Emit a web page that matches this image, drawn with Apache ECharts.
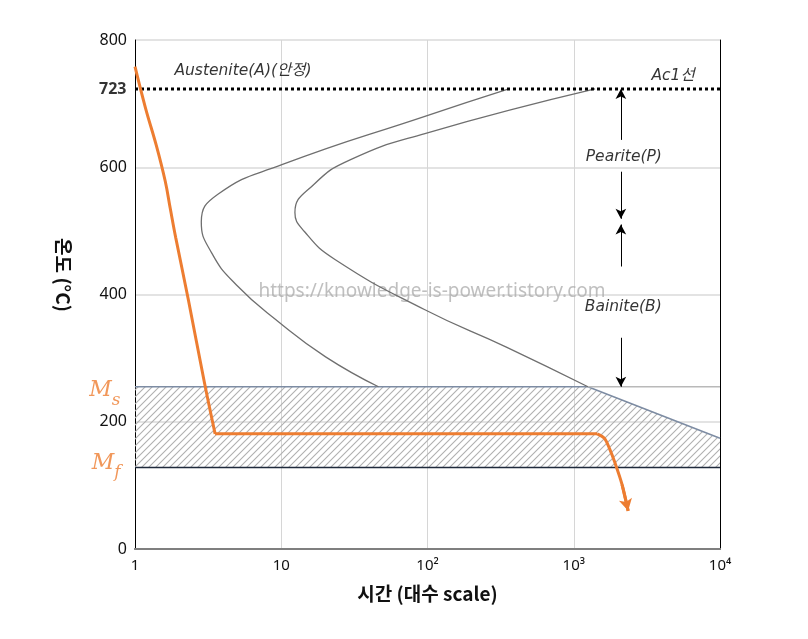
<!DOCTYPE html>
<html>
<head>
<meta charset="utf-8">
<script src="https://cdn.jsdelivr.net/npm/echarts@6/dist/echarts.min.js"></script>
<style>
  html, body { margin: 0; padding: 0; background: #fff; }
  #main { width: 808px; height: 639px; }
</style>
</head>
<body>
<div id="main"></div>
<script>
// 시간(s, log) / 온도(°C)
const xTickLabels = { 1: '1', 10: '10', 100: '10²', 1000: '10³', 10000: '10⁴' };
const A1 = 723;
const Ms = 255;
const Mf = 128;

// 변태 개시선 / 종료선
const startCurve = [
  [360, 723], [96, 680], [10.1, 604], [3.71, 558], [2.84, 514],
  [3.35, 465], [4.94, 415], [9.7, 356], [20.1, 302], [46.2, Ms]
];
const finishCurve = [
  [1400, 723], [96, 653], [29.8, 612], [16.7, 573], [12.4, 529],
  [14.4, 499], [23.3, 455], [96, 376], [349, 317], [1250, Ms]
];
// 마르텐사이트 구역 (빗금)
const martensiteZone = [[1, Ms], [1250, Ms], [10000, 174], [10000, Mf], [1, Mf]];
const msRest = [[1250, Ms], [10000, Ms]];

// 냉각 곡선
const coolingCurve = [
  [1, 758], [1.18, 693], [1.40, 634], [1.61, 578], [1.74, 536], [1.90, 489],
  [2.32, 391], [2.98, 262], [3.53, 181]
];
const coolingHold = [[3.53, 181], [1446, 181]];
const coolingEnd = [[1446, 181], [1620, 174], [1762, 157], [1916, 135], [2141, 101], [2355, 60]];

// 화살표
const arrows = [
  [[2100, 643], [2100, 723]],
  [[2100, 593], [2100, 519]],
  [[2100, 444], [2100, 510]],
  [[2100, 332], [2100, Ms]]
];

const notes = [
  { name: 'Austenite(A)(안정)', value: [1.86, 752], align: 'left' },
  { name: 'Ac1선', value: [4775, 744], align: 'center' },
  { name: 'Pearite(P)', value: [2200, 616], align: 'center' },
  { name: 'Bainite(B)', value: [2180, 380], align: 'center' }
];

const orange = '#ed7d31';
const sans = "'Noto Sans', 'Noto Sans CJK KR', sans-serif";
const noteFont = "'DejaVu Sans', 'Noto Sans CJK KR', sans-serif";
const titleFont = "'Noto Sans CJK KR', 'Noto Sans', sans-serif";
const hidden = { color: 'transparent' };

// 빗금 패턴
const tile = document.createElement('canvas');
tile.width = 7; tile.height = 7;
const ctx = tile.getContext('2d');
ctx.strokeStyle = '#b0b0b0';
ctx.lineWidth = 1.1;
ctx.beginPath();
ctx.moveTo(0, 7); ctx.lineTo(7, 0);
ctx.moveTo(-1, 1); ctx.lineTo(1, -1);
ctx.moveTo(6, 8); ctx.lineTo(8, 6);
ctx.stroke();
const hatch = { image: tile, repeat: 'repeat' };

const chart = echarts.init(document.getElementById('main'));

chart.setOption({
  animation: false,
  grid: { left: 135, right: 88, top: 40, bottom: 90 },
  xAxis: [
    {
      type: 'log', logBase: 10, min: 1, max: 10000,
      name: '시간 (대수 scale)', nameLocation: 'middle', nameGap: 35,
      nameTextStyle: { fontFamily: titleFont, fontSize: 19, fontWeight: 'bold', color: '#111' },
      axisLine: { show: true, lineStyle: { color: '#7f7f7f', width: 2 } },
      axisTick: { show: false },
      axisLabel: {
        fontFamily: sans, fontSize: 15, color: '#111', margin: 9,
        formatter: v => xTickLabels[Math.round(v)] || ''
      },
      splitLine: { show: true, lineStyle: { color: '#d6d6d6', width: 1 } }
    },
    {
      type: 'log', logBase: 10, min: 1, max: 10000, position: 'top',
      axisLine: { show: true, lineStyle: { color: '#7f7f7f', width: 2 } },
      axisTick: { show: false }, axisLabel: { show: false }, splitLine: { show: false }
    }
  ],
  yAxis: [
    {
      type: 'value', min: 0, max: 800, interval: 200,
      axisLine: { show: true, lineStyle: { color: '#000', width: 1 } },
      axisTick: { show: false },
      axisLabel: { fontFamily: sans, fontSize: 16, color: '#111', margin: 8 },
      splitLine: { show: true, lineStyle: { color: '#e3e3e3', width: 2 } }
    },
    {
      type: 'value', min: 0, max: 800, position: 'right',
      axisLine: { show: true, lineStyle: { color: '#000', width: 1 } },
      axisTick: { show: false }, axisLabel: { show: false }, splitLine: { show: false }
    }
  ],
  graphic: [
    {
      type: 'text', x: 432, y: 292, z: 2,
      style: {
        text: 'https://knowledge-is-power.tistory.com',
        font: "19px 'Noto Sans'", fill: 'rgba(170,170,170,0.75)',
        align: 'center', verticalAlign: 'middle'
      }
    },
    {
      type: 'text', x: 63, y: 275, rotation: -Math.PI / 2,
      style: {
        text: '온도 (°C)', font: "bold 19px 'Noto Sans CJK KR'", fill: '#111',
        align: 'center', verticalAlign: 'middle'
      }
    }
  ],
  series: [
    {
      type: 'custom', name: 'zone', silent: true, z: 1,
      data: [[1, Mf]],
      renderItem: (params, api) => ({
        type: 'polygon',
        shape: { points: martensiteZone.map(p => api.coord(p)) },
        style: { fill: hatch, stroke: 'none' }
      })
    },
    {
      type: 'line', data: martensiteZone.slice(0, 3), symbol: 'none', silent: true, z: 2,
      lineStyle: { color: '#7d8ca3', width: 1.5 }
    },
    {
      type: 'line', data: [martensiteZone[3], martensiteZone[4]], symbol: 'none', silent: true, z: 2,
      lineStyle: { color: '#1f2a3c', width: 1.5 }
    },
    {
      type: 'line', data: msRest, symbol: 'none', silent: true, z: 2,
      lineStyle: { color: '#b9b9b9', width: 1.5 }
    },
    {
      type: 'line', name: 'start', data: startCurve, symbol: 'none', smooth: 0.5,
      lineStyle: { color: '#6f6f6f', width: 1.3 }, z: 3
    },
    {
      type: 'line', name: 'finish', data: finishCurve, symbol: 'none', smooth: 0.5,
      lineStyle: { color: '#6f6f6f', width: 1.3 }, z: 3
    },
    {
      type: 'line', name: 'A1', data: [[1, A1], [10000, A1]], symbol: 'none', z: 4,
      lineStyle: { color: '#000', width: 3, type: 'dotted' },
      markLine: {
        silent: true, symbol: ['none', 'arrow'], symbolSize: [8, 10],
        lineStyle: { color: '#000', width: 1, type: 'solid' },
        label: { show: false },
        data: arrows.map(a => [{ coord: a[0] }, { coord: a[1] }])
      }
    },
    {
      type: 'line', data: coolingCurve, symbol: 'none', smooth: 0.4, z: 5,
      lineStyle: { color: orange, width: 3 }
    },
    {
      type: 'line', data: coolingHold, symbol: 'none', z: 5,
      lineStyle: { color: orange, width: 3 }
    },
    {
      type: 'line', data: coolingEnd, symbol: 'none', smooth: 0.3, z: 5,
      lineStyle: { color: orange, width: 3 },
      markLine: {
        silent: true, symbol: ['none', 'arrow'], symbolSize: [10, 12],
        lineStyle: { color: orange, width: 3, type: 'solid' },
        label: { show: false },
        data: [[{ coord: coolingEnd[coolingEnd.length - 2] }, { coord: coolingEnd[coolingEnd.length - 1] }]]
      }
    },
    {
      type: 'scatter', symbol: 'circle', symbolSize: 1, itemStyle: hidden, silent: true, z: 6,
      data: notes.map(n => ({
        name: n.name, value: n.value,
        label: { align: n.align }
      })),
      label: {
        show: true, position: 'inside', formatter: '{b}',
        fontFamily: noteFont, fontStyle: 'italic', fontSize: 15.5, color: '#000'
      }
    },
    {
      type: 'scatter', symbol: 'circle', symbolSize: 1, itemStyle: hidden, silent: true, z: 6,
      data: [
        { name: 's', value: [1, Ms], label: { offset: [0, 1] } },
        { name: 'f', value: [1, Mf], label: { offset: [0, -7] } }
      ],
      label: {
        show: true, position: 'left', distance: 14,
        formatter: p => '{m|M}{s|' + p.name + '}',
        rich: {
          m: { fontFamily: 'DejaVu Serif', fontStyle: 'italic', fontSize: 22, color: orange, lineHeight: 28, verticalAlign: 'bottom' },
          s: { fontFamily: 'DejaVu Serif', fontStyle: 'italic', fontSize: 17, color: orange, lineHeight: 28, verticalAlign: 'bottom', padding: [0, 0, -7, 0] }
        }
      }
    },
    {
      type: 'scatter', symbol: 'circle', symbolSize: 1, itemStyle: hidden, silent: true, z: 6,
      data: [{ value: [1, A1] }],
      label: {
        show: true, position: 'left', distance: 8, formatter: String(A1),
        fontFamily: sans, fontSize: 16, fontWeight: 'bold', color: '#000'
      }
    }
  ]
});
</script>
</body>
</html>
